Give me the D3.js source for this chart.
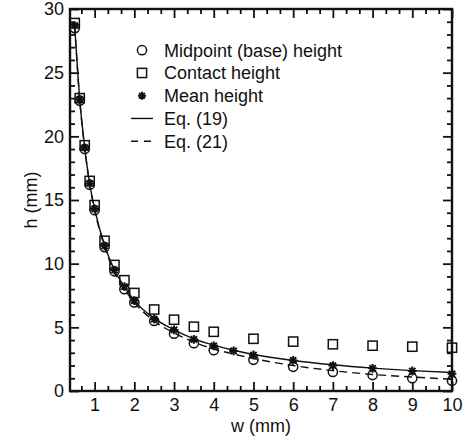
<!DOCTYPE html>
<html>
<head>
<meta charset="utf-8">
<script src="https://cdn.jsdelivr.net/npm/d3@7"></script>
<style>
  body { margin: 0; background: #fff; }
  text { font-family: "Liberation Sans", Arial, sans-serif; fill: #111; }
</style>
</head>
<body>
<svg id="chart" width="467" height="442"></svg>
<script>
var wPts      = [0.5, 0.625, 0.75, 0.875, 1, 1.25, 1.5, 1.75, 2, 2.5, 3, 3.5, 4, 5, 6, 7, 8, 9, 10];
var midHeight = [28.5, 22.8, 19.0, 16.2, 14.2, 11.3, 9.4, 8.0, 6.95, 5.5, 4.5, 3.75, 3.2, 2.45, 1.9, 1.5, 1.25, 1.0, 0.8];
var contactHeight = [28.9, 23.0, 19.3, 16.5, 14.6, 11.8, 9.9, 8.7, 7.7, 6.4, 5.6, 5.05, 4.65, 4.1, 3.88, 3.67, 3.56, 3.48, 3.4];

var wMean     = [0.5, 0.625, 0.75, 0.875, 1, 1.25, 1.5, 1.75, 2, 2.5, 3, 3.5, 4, 4.5, 5, 6, 7, 8, 9, 10];
var meanHeight = [28.7, 22.9, 19.1, 16.3, 14.3, 11.4, 9.5, 8.2, 7.1, 5.65, 4.8, 4.05, 3.55, 3.15, 2.83, 2.4, 2.0, 1.78, 1.57, 1.35];

// model curves, read at sample points
var wCurve  = [0.5, 0.625, 0.75, 0.875, 1, 1.25, 1.5, 1.75, 2, 2.5, 3, 3.5, 4, 4.5, 5, 6, 7, 8, 9, 10];
var eq19    = [28.6, 22.9, 19.15, 16.3, 14.3, 11.45, 9.5, 8.2, 7.1, 5.7, 4.8, 4.1, 3.6, 3.2, 2.87, 2.4, 2.06, 1.8, 1.6, 1.45];
var eq21    = [28.6, 22.85, 19.05, 16.2, 14.2, 11.35, 9.35, 8.0, 6.95, 5.5, 4.55, 3.85, 3.3, 2.9, 2.55, 2.0, 1.6, 1.3, 1.1, 0.92];

var legendLabels = ["Midpoint (base) height", "Contact height", "Mean height", "Eq. (19)", "Eq. (21)"];
var xMajor = [1, 2, 3, 4, 5, 6, 7, 8, 9, 10];
var yMajor = [0, 5, 10, 15, 20, 25, 30];

var margin = {top: 9, right: 15, bottom: 51, left: 70},
    width = 467 - margin.left - margin.right,
    height = 442 - margin.top - margin.bottom;

var svg = d3.select('#chart').append('g')
  .attr('transform', 'translate(' + margin.left + ',' + margin.top + ')');

var x = d3.scaleLinear().domain([0.38, 10]).range([0, width]);
var y = d3.scaleLinear().domain([0, 30]).range([height, 0]);

// minor tick values
var xMinor = d3.range(2, 31).filter(function(k) { return k % 3 != 0; }).map(function(k) { return k / 3; });
var yMinor = d3.range(1, 30).filter(function(v) { return v % 5 != 0; });

var majorLen = 9, minorLen = 5;

function styleAxis(g) {
  g.select('.domain').remove();
  g.selectAll('.tick line').attr('stroke', '#111').attr('stroke-width', 1.8);
  g.selectAll('.tick text').style('font-size', '18px').attr('fill', '#111');
}

// bottom
svg.append('g').attr('transform', 'translate(0,' + height + ')')
  .call(d3.axisBottom(x).tickValues(xMajor).tickSize(-majorLen).tickPadding(7).tickFormat(d3.format('d')))
  .call(styleAxis);
svg.append('g').attr('transform', 'translate(0,' + height + ')')
  .call(d3.axisBottom(x).tickValues(xMinor).tickSize(-minorLen).tickFormat(''))
  .call(styleAxis);
// top
svg.append('g')
  .call(d3.axisTop(x).tickValues(xMajor).tickSize(-majorLen).tickFormat(''))
  .call(styleAxis);
svg.append('g')
  .call(d3.axisTop(x).tickValues(xMinor).tickSize(-minorLen).tickFormat(''))
  .call(styleAxis);
// left
svg.append('g')
  .call(d3.axisLeft(y).tickValues(yMajor).tickSize(-majorLen).tickPadding(6).tickFormat(d3.format('d')))
  .call(styleAxis);
svg.append('g')
  .call(d3.axisLeft(y).tickValues(yMinor).tickSize(-minorLen).tickFormat(''))
  .call(styleAxis);
// right
svg.append('g').attr('transform', 'translate(' + width + ',0)')
  .call(d3.axisRight(y).tickValues(yMajor).tickSize(-majorLen).tickFormat(''))
  .call(styleAxis);
svg.append('g').attr('transform', 'translate(' + width + ',0)')
  .call(d3.axisRight(y).tickValues(yMinor).tickSize(-minorLen).tickFormat(''))
  .call(styleAxis);

// frame
svg.append('rect')
  .attr('width', width).attr('height', height)
  .attr('fill', 'none').attr('stroke', '#111').attr('stroke-width', 2.4);

// axis titles
svg.append('text')
  .attr('x', width / 2).attr('y', height + 41)
  .attr('text-anchor', 'middle').style('font-size', '18px')
  .text('w (mm)');
svg.append('text')
  .attr('transform', 'translate(' + (-33) + ',' + (height / 2) + ') rotate(-90)')
  .attr('text-anchor', 'middle').style('font-size', '18px')
  .text('h (mm)');

// curves
var line = d3.line().curve(d3.curveMonotoneX);
svg.append('path')
  .attr('d', line(wCurve.map(function(w, i) { return [x(w), y(eq19[i])]; })))
  .attr('fill', 'none').attr('stroke', '#111').attr('stroke-width', 1.4);
svg.append('path')
  .attr('d', line(wCurve.map(function(w, i) { return [x(w), y(eq21[i])]; })))
  .attr('fill', 'none').attr('stroke', '#111').attr('stroke-width', 1.4)
  .attr('stroke-dasharray', '8,5');

// markers
function drawCircle(g, cx, cy) {
  g.append('circle').attr('cx', cx).attr('cy', cy).attr('r', 4.6)
    .attr('fill', 'none').attr('stroke', '#111').attr('stroke-width', 1.5);
}
function drawSquare(g, cx, cy) {
  g.append('rect').attr('x', cx - 4.6).attr('y', cy - 4.6).attr('width', 9.2).attr('height', 9.2)
    .attr('fill', 'none').attr('stroke', '#111').attr('stroke-width', 1.5);
}
function drawStar(g, cx, cy, r) {
  var p = '';
  for (var a = 0; a < 4; a++) {
    var t = a * Math.PI / 4;
    p += 'M' + (cx - r * Math.cos(t)) + ',' + (cy - r * Math.sin(t)) +
         'L' + (cx + r * Math.cos(t)) + ',' + (cy + r * Math.sin(t));
  }
  g.append('path').attr('d', p).attr('stroke', '#111').attr('stroke-width', 2).attr('fill', 'none');
}

var marks = svg.append('g');
wPts.forEach(function(w, i) { drawSquare(marks, x(w), y(contactHeight[i])); });
wPts.forEach(function(w, i) { drawCircle(marks, x(w), y(midHeight[i])); });
wMean.forEach(function(w, i) { drawStar(marks, x(w), y(meanHeight[i]), 4.4); });

// legend
var legend = svg.append('g').attr('transform', 'translate(' + (142 - margin.left) + ',' + (56.7 - margin.top) + ')');
var rowH = 22.75;
legendLabels.forEach(function(label, i) {
  var cy = i * rowH - 6.5;
  if (i == 0) drawCircle(legend, 0, cy);
  if (i == 1) drawSquare(legend, 0, cy);
  if (i == 2) drawStar(legend, 0, cy, 4);
  if (i == 3) legend.append('line').attr('x1', -11).attr('x2', 11).attr('y1', cy).attr('y2', cy)
    .attr('stroke', '#111').attr('stroke-width', 1.4);
  if (i == 4) legend.append('line').attr('x1', -11).attr('x2', 11).attr('y1', cy).attr('y2', cy)
    .attr('stroke', '#111').attr('stroke-width', 1.4).attr('stroke-dasharray', '7,6');
  legend.append('text').attr('x', 22).attr('y', i * rowH)
    .style('font-size', '18px').text(label);
});
</script>
</body>
</html>
